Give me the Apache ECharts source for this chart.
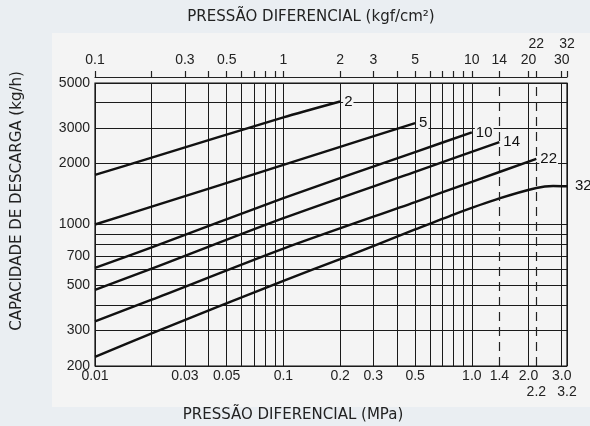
<!DOCTYPE html>
<html>
<head>
<meta charset="utf-8">
<script src="https://cdn.jsdelivr.net/npm/echarts@6/dist/echarts.min.js"></script>
<style>
html, body { margin: 0; padding: 0; background: #eaeef2; }
#chart { width: 590px; height: 426px; }
</style>
</head>
<body>
<div id="chart"></div>
<script>
// set pressure of each curve (kgf/cm2)
var curveNames = ['2', '5', '10', '14', '22', '32'];

// differential pressure (MPa) / discharge capacity (kg/h)
var dp2 = [0.01, 0.02, 0.1, 0.2];
var q2 = [1760, 2140, 3380, 4050];
var dp5 = [0.01, 0.02, 0.1, 0.2, 0.5];
var q5 = [1000, 1225, 1970, 2420, 3170];
var dp10 = [0.01, 0.02, 0.1, 0.5, 1.0];
var q10 = [610, 770, 1350, 2280, 2850];
var dp14 = [0.01, 0.02, 0.1, 0.5, 1.4];
var q14 = [475, 605, 1075, 1820, 2550];
var dp22 = [0.01, 0.02, 0.1, 0.5, 1.0, 2.2];
var q22 = [332, 425, 760, 1290, 1625, 2110];
var dp32 = [0.01, 0.02, 0.1, 0.2, 0.5, 0.8, 1.4, 2.2, 2.7, 3.2];
var q32 = [222, 290, 527, 675, 945, 1120, 1345, 1515, 1550, 1545];

// bottom axis (MPa)
var mpaGrid = [0.01, 0.02, 0.03, 0.04, 0.05, 0.06, 0.07, 0.08, 0.09,
               0.1, 0.2, 0.3, 0.4, 0.5, 0.6, 0.7, 0.8, 0.9, 1, 2, 3, 3.2];
var mpaDashed = [1.4, 2.2];
var mpaLabelValues = [0.01, 0.03, 0.05, 0.1, 0.2, 0.3, 0.5, 1, 1.4, 2, 3, 2.2, 3.2];
var mpaLabelTexts = ['0.01', '0.03', '0.05', '0.1', '0.2', '0.3', '0.5', '1.0', '1.4', '2.0', '3.0', '\n2.2', '\n3.2'];

// top axis (kgf/cm2)
var kgfTicks = [0.1, 0.2, 0.3, 0.4, 0.5, 0.6, 0.7, 0.8, 0.9, 1, 2, 3, 4, 5, 6, 7, 8, 9, 10, 14, 20, 22, 30, 32];
var kgfLabelValues = [0.1, 0.3, 0.5, 1, 2, 3, 5, 10, 14, 20, 30, 22, 32];
var kgfLabelTexts = ['0.1', '0.3', '0.5', '1', '2', '3', '5', '10', '14', '20', '30', '22\n', '32\n'];

// capacity axis (kg/h)
var qGrid = [200, 300, 400, 500, 600, 700, 800, 900, 1000, 2000, 3000, 4000, 5000];
var qLabelValues = [200, 300, 500, 700, 1000, 2000, 3000, 5000];

function labelLookup(vals, texts) {
    return function (v) {
        for (var i = 0; i < vals.length; i++) {
            if (Math.abs(vals[i] - v) < vals[i] * 1e-3) return texts[i];
        }
        return '';
    };
}

function pairs(xs, ys) {
    var out = [];
    for (var i = 0; i < xs.length; i++) out.push([xs[i], ys[i]]);
    return out;
}

var curveX = [dp2, dp5, dp10, dp14, dp22, dp32];
var curveY = [q2, q5, q10, q14, q22, q32];

var tickFont = 'Liberation Sans';
var titleFont = '15px "DejaVu Sans"';

var series = [];
for (var i = 0; i < curveNames.length; i++) {
    series.push({
        name: curveNames[i],
        type: 'line',
        xAxisIndex: 0,
        yAxisIndex: 0,
        data: pairs(curveX[i], curveY[i]),
        symbol: 'none',
        smooth: 0.25,
        lineStyle: { color: '#111', width: 2.4 },
        endLabel: {
            show: true,
            formatter: '{a}',
            distance: i == 5 ? 7 : 3,
            color: '#111',
            fontFamily: tickFont,
            fontSize: 15,
            backgroundColor: '#f4f4f4',
            padding: [1, 1]
        },
        emphasis: { disabled: true },
        z: 3
    });
}
// dashed verticals at 1.4 and 2.2 MPa
series[0].markLine = {
    silent: true,
    symbol: 'none',
    label: { show: false },
    lineStyle: { type: [9, 6], color: '#222', width: 1.2 },
    data: mpaDashed.map(function (v) { return { xAxis: v }; })
};

var myChart = echarts.init(document.getElementById('chart'));

var option = {
    animation: false,
    backgroundColor: '#eaeef2',
    graphic: {
        elements: [
            {
                type: 'rect', z: -10, silent: true,
                shape: { x: 52, y: 33, width: 538, height: 374 },
                style: { fill: '#f4f4f4' }
            },
            {
                type: 'text', x: 311, y: 17,
                style: { text: 'PRESSÃO DIFERENCIAL (kgf/cm²)', font: titleFont, fill: '#222', align: 'center', verticalAlign: 'middle' }
            },
            {
                type: 'text', x: 293, y: 415,
                style: { text: 'PRESSÃO DIFERENCIAL (MPa)', font: titleFont, fill: '#222', align: 'center', verticalAlign: 'middle' }
            },
            {
                type: 'text', x: 17, y: 201, rotation: Math.PI / 2,
                style: { text: 'CAPACIDADE DE DESCARGA (kg/h)', font: titleFont, fill: '#222', align: 'center', verticalAlign: 'middle' }
            }
        ]
    },
    grid: {
        left: 95, right: 23, top: 83, bottom: 60,
        show: true,
        backgroundColor: '#f4f4f4',
        borderColor: '#111',
        borderWidth: 1.2
    },
    xAxis: [
        {
            type: 'log',
            position: 'bottom',
            min: 0.01, max: 3.2,
            axisLine: { show: false },
            axisTick: { show: false, customValues: mpaGrid },
            axisLabel: {
                customValues: mpaLabelValues,
                formatter: labelLookup(mpaLabelValues, mpaLabelTexts),
                hideOverlap: false,
                margin: 2,
                color: '#222',
                fontFamily: tickFont,
                fontSize: 14,
                lineHeight: 16
            },
            splitLine: { show: true, lineStyle: { color: '#1a1a1a', width: 1 } }
        },
        {
            type: 'log',
            position: 'top',
            min: 0.1, max: 32,
            offset: 6,
            axisLine: { show: true, lineStyle: { color: '#222', width: 1.2 } },
            axisTick: { show: true, inside: false, length: 6, customValues: kgfTicks, lineStyle: { color: '#222', width: 1.2 } },
            axisLabel: {
                customValues: kgfLabelValues,
                formatter: labelLookup(kgfLabelValues, kgfLabelTexts),
                hideOverlap: false,
                margin: 9,
                color: '#222',
                fontFamily: tickFont,
                fontSize: 14,
                lineHeight: 16
            },
            splitLine: { show: false }
        }
    ],
    yAxis: {
        type: 'log',
        min: 200, max: 5000,
        axisLine: { show: false },
        axisTick: { show: false, customValues: qGrid },
        axisLabel: {
            customValues: qLabelValues,
            formatter: function (v) { return String(Math.round(v)); },
            hideOverlap: false,
            margin: 5,
            color: '#222',
            fontFamily: tickFont,
            fontSize: 14
        },
        splitLine: { show: true, lineStyle: { color: '#1a1a1a', width: 1 } }
    },
    series: series
};

myChart.setOption(option);
</script>
</body>
</html>
